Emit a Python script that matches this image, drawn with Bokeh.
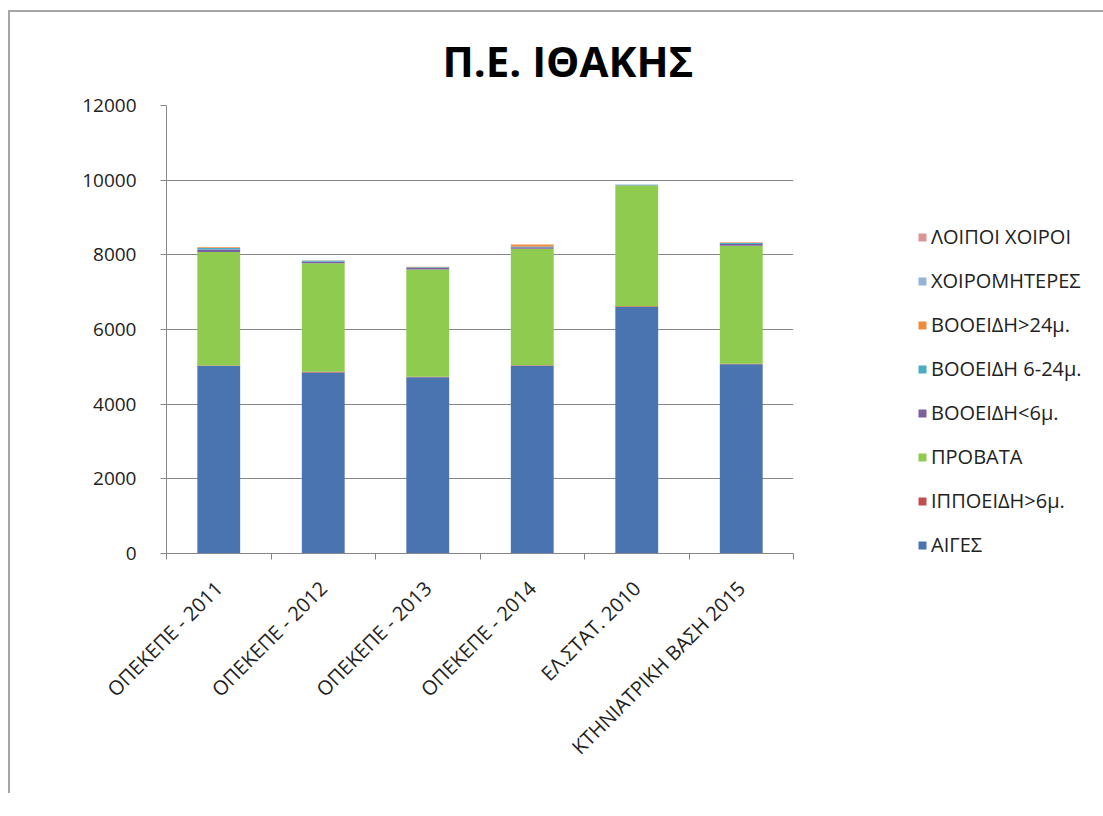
from bokeh.plotting import figure
from bokeh.models import (FixedTicker, Legend, LegendItem, Range1d, Title,
                          ColumnDataSource)
from bokeh.embed import file_html
from bokeh.resources import INLINE
import math

categories = ["ΟΠΕΚΕΠΕ - 2011", "ΟΠΕΚΕΠΕ - 2012", "ΟΠΕΚΕΠΕ - 2013",
              "ΟΠΕΚΕΠΕ - 2014", "ΕΛ.ΣΤΑΤ. 2010", "ΚΤΗΝΙΑΤΡΙΚΗ ΒΑΣΗ 2015"]

aiges = [5020, 4850, 4720, 5030, 6600, 5070]
ippoeidi = [15, 15, 15, 15, 25, 10]
provata = [3040, 2910, 2870, 3120, 3230, 3160]
vooeidi_lt6 = [70, 40, 40, 40, 10, 50]
vooeidi_6_24 = [40, 25, 20, 20, 10, 30]
vooeidi_gt24 = [15, 10, 8, 50, 5, 10]
choiromiteres = [2, 2, 2, 2, 2, 2]
loipoi_choiroi = [3, 3, 3, 3, 3, 3]

series_names = ["ΑΙΓΕΣ", "ΙΠΠΟΕΙΔΗ>6μ.", "ΠΡΟΒΑΤΑ", "ΒΟΟΕΙΔΗ<6μ.",
                "ΒΟΟΕΙΔΗ 6-24μ.", "ΒΟΟΕΙΔΗ>24μ.", "ΧΟΙΡΟΜΗΤΕΡΕΣ", "ΛΟΙΠΟΙ ΧΟΙΡΟΙ"]
series_values = [aiges, ippoeidi, provata, vooeidi_lt6, vooeidi_6_24,
                 vooeidi_gt24, choiromiteres, loipoi_choiroi]
colors = ["#4A74B0", "#C0504D", "#8FCB4E", "#7B5FA0",
          "#4BACC6", "#F08A3C", "#95B3D7", "#D99694"]

y_ticks = [0, 2000, 4000, 6000, 8000, 10000, 12000]

FONT = "Open Sans"

keys = ["s%d" % i for i in range(len(series_names))]
data = {"x": [i + 0.5 for i in range(len(categories))]}
for k, v in zip(keys, series_values):
    data[k] = v
source = ColumnDataSource(data)

p = figure(frame_width=627, frame_height=448, output_backend="svg",
           toolbar_location=None,
           x_range=Range1d(0, len(categories)), y_range=Range1d(0, 12000),
           min_border_left=156, min_border_right=0, min_border_top=0,
           min_border_bottom=240)
p.styles = {"border-left": "2px solid #a6a6a6", "border-top": "2px solid #a6a6a6",
            "margin-left": "8px", "margin-top": "10px"}
p.outline_line_color = None
p.background_fill_color = "white"
p.border_fill_color = "white"

renderers = p.vbar_stack(keys, x="x", width=0.41, color=colors, source=source,
                         line_color=None)

# title
t = Title(text="Π.Ε. ΙΘΑΚΗΣ", text_font=FONT, text_font_size="42px",
          text_font_style="bold", text_color="#000000", align="left",
          offset=276, standoff=34)
p.add_layout(t, "above")

# y axis
p.yaxis.ticker = FixedTicker(ticks=y_ticks)
p.yaxis.axis_line_color = "#868686"
p.yaxis.major_tick_line_color = "#868686"
p.yaxis.major_tick_out = 6
p.yaxis.major_tick_in = 0
p.yaxis.minor_tick_line_color = None
p.yaxis.major_label_standoff = 24
p.yaxis.major_label_text_font = FONT
p.yaxis.major_label_text_font_size = "19px"
p.yaxis.major_label_text_color = "#222222"
p.ygrid.grid_line_color = "#868686"
p.ygrid.ticker = FixedTicker(ticks=y_ticks)
p.xgrid.grid_line_color = None

# x axis: labels at centres, ticks at boundaries
p.xaxis.ticker = FixedTicker(ticks=data["x"],
                             minor_ticks=list(range(len(categories) + 1)))
p.xaxis.major_label_overrides = {x: c for x, c in zip(data["x"], categories)}
p.xaxis.major_tick_line_color = None
p.xaxis.minor_tick_line_color = "#868686"
p.xaxis.minor_tick_out = 6
p.xaxis.minor_tick_in = 0
p.xaxis.axis_line_color = "#868686"
p.xaxis.major_label_orientation = math.pi / 4
p.xaxis.major_label_standoff = 25
p.xaxis.major_label_text_font = FONT
p.xaxis.major_label_text_font_size = "20px"
p.xaxis.major_label_text_color = "#222222"

items = [LegendItem(label=n, renderers=[r]) for n, r in zip(series_names, renderers)]
legend = Legend(items=list(reversed(items)), location=(124, -5),
                label_text_font=FONT, label_text_font_size="20px",
                label_text_color="#222222", glyph_width=10, glyph_height=10,
                label_height=20, spacing=17, padding=0, margin=0,
                label_standoff=4, border_line_color=None,
                background_fill_alpha=0)
p.add_layout(legend, "right")

open("out.html", "w").write(file_html(p, INLINE))
